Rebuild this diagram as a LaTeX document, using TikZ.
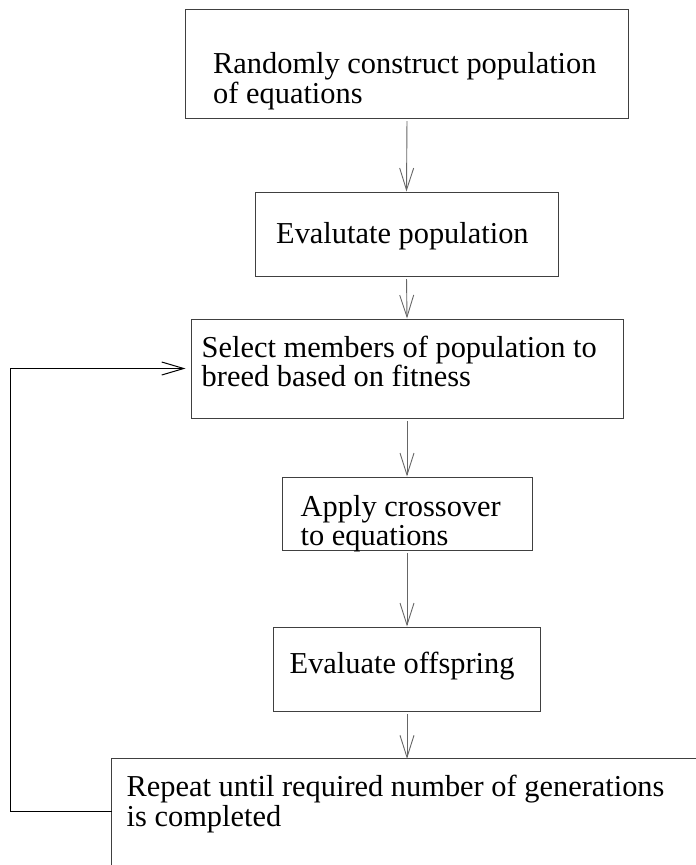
\documentclass[tikz,border=0pt]{standalone}
\usepackage{fontspec}
\setmainfont{Liberation Serif}
\usetikzlibrary{arrows.meta}
\begin{document}
\begin{tikzpicture}[x=1pt,y=-1pt,
  box/.style={draw=black!75, line width=1pt, inner sep=0pt},
  openbox/.style={inner sep=0pt},
  edge6/.style={draw=black!75, line width=1pt},
  txt/.style={inner sep=0pt, anchor=base west, font=\fontsize{30.4}{30}\selectfont},
  arr/.style={draw=black!60, line width=0.9pt, -{Straight Barb[length=22pt,width=14pt]}, shorten <=2.5pt},
  fb/.style={draw=black, line width=1pt, -{Straight Barb[length=22pt,width=13pt]}, shorten >=5pt}]
\useasboundingbox (0,0) rectangle (696,865);
% boxes
\node[box, minimum width=443pt, minimum height=109pt] (b1) at (407,63.5) {};
\node[box, minimum width=303pt, minimum height=84pt]  (b2) at (406.5,234) {};
\node[box, minimum width=432pt, minimum height=99pt]  (b3) at (407,368.5) {};
\node[box, minimum width=250pt, minimum height=73pt]  (b4) at (407,513.5) {};
\node[box, minimum width=267pt, minimum height=84pt]  (b5) at (407,669) {};
\node[openbox, minimum width=584pt, minimum height=106pt] (b6) at (404,812) {};
\draw[edge6] (b6.north east) -- (b6.north west) -- (b6.south west);
% texts
\node[txt] (t1a) at (213,73) {Randomly construct population};
\node[txt] (t1b) at (213,103) {of equations};
\node[txt] (t2)  at (276,243) {Evalutate population};
\node[txt] (t3a) at (201.5,357) {Select members of population to};
\node[txt] (t3b) at (201.5,386.5) {breed based on fitness};
\node[txt] (t4a) at (300.5,516) {Apply crossover};
\node[txt] (t4b) at (300.5,545) {to equations};
\node[txt] (t5)  at (289.5,673) {Evaluate offspring};
\node[txt] (t6a) at (126.5,796) {Repeat until required number of generations};
\node[txt] (t6b) at (126.5,826) {is completed};
% arrows
\coordinate (a5) at (b5.south);
\draw[arr] (b1.south) -- (b2.north);
\draw[arr] (b2.south) -- (b3.north);
\draw[arr] (b3.south) -- (b4.north);
\draw[arr] (b4.south) -- (b5.north);
\draw[arr] (a5) -- (a5 |- b6.north);
% feedback loop
\draw[fb] ([yshift=-53pt]b6.north west) -- ++(-101pt,0) |- ([yshift=-50pt]b3.north west);
\end{tikzpicture}
\end{document}
